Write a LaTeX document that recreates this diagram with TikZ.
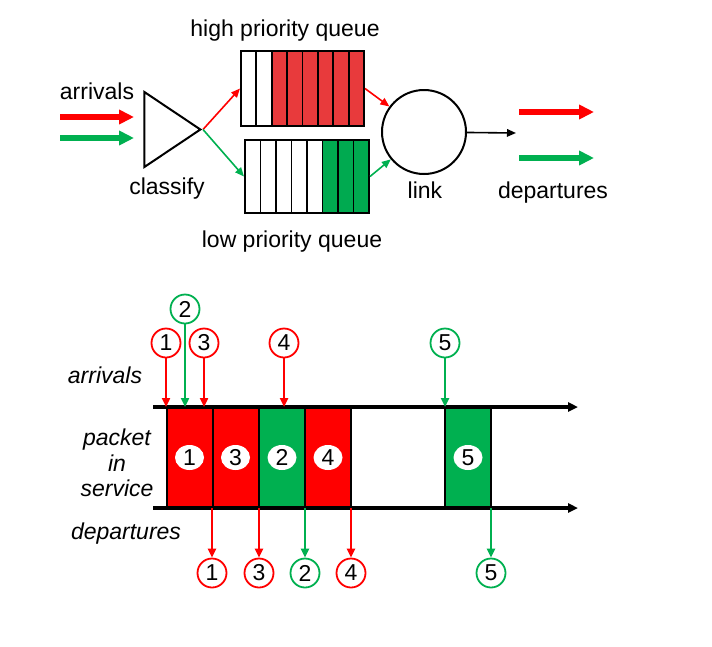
\documentclass[tikz,border=0pt]{standalone}
\usepackage{fontspec}
\setmainfont{Liberation Sans}
\usepackage{xcolor}
\usetikzlibrary{arrows.meta,positioning,shapes.geometric}
\definecolor{pktred}{RGB}{255,0,0}
\definecolor{pktgreen}{RGB}{0,176,80}
\definecolor{qred}{RGB}{232,58,60}
\definecolor{qgreen}{RGB}{0,170,80}
\begin{document}
\begin{tikzpicture}[x=1pt,y=-1pt,font=\fontsize{23}{25.5}\selectfont,
	flow/.style={line width=5.5pt,-{Triangle[length=15pt,width=14pt]}},
	feed/.style={line width=1.6pt,-{Triangle[length=9pt,width=7.5pt]}},
	tick/.style={line width=2.4pt,-{Triangle[length=9pt,width=8pt]}},
	timeline/.style={line width=3.2pt,-{Triangle[length=10pt,width=9pt]}},
	queue/.style={draw,line width=2pt,inner sep=0pt,minimum height=75pt},
	slot/.style={draw,line width=2pt,inner sep=0pt,minimum width=46pt,minimum height=101pt},
	slotlbl/.style={ellipse,fill=white,inner sep=0pt,minimum width=29pt,minimum height=25pt},
	pkt/.style={circle,draw,fill=white,line width=1.8pt,inner sep=0pt,minimum size=29pt},
	txt/.style={anchor=base},
	itxt/.style={anchor=base,font=\fontsize{23}{25.5}\selectfont\itshape}]
	\useasboundingbox (0,0) rectangle (712,646);

	% scheduler
	\node [txt] at (97,99) (arrtxt) {arrivals};
	\coordinate (inr0) at (60,117);
	\coordinate (inr1) at (134,117);
	\coordinate (ing0) at (60,138);
	\coordinate (ing1) at (134,138);
	\node [isosceles triangle,draw,line width=2pt,inner sep=0pt,isosceles triangle stretches,
		minimum width=75pt,minimum height=56pt,anchor=apex] at (203,129.5) (cls) {};
	\node [txt] at (167,194) (clstxt) {classify};

	\foreach \c [count=\i from 0] in {white,white,qred,qred,qred,qred,qred,qred}
		\filldraw[fill=\c,line width=1.8pt] (241+\i*15.375,51) rectangle ++(15.375,75);
	\foreach \c [count=\i from 0] in {white,white,white,white,white,qgreen,qgreen,qgreen}
		\filldraw[fill=\c,line width=1.8pt] (245+\i*15.5,140) rectangle ++(15.5,73);
	\node [queue,minimum width=123pt] at (302.5,88.5) (hq) {};
	\node [queue,minimum width=124pt,minimum height=73pt] at (307,176.5) (lq) {};
	\node [txt] at (285,36) (hqtxt) {high priority queue};
	\node [txt] at (292,247) (lqtxt) {low priority queue};

	\node [circle,draw,line width=2pt,inner sep=0pt,minimum size=84pt] at (424,132) (link) {};
	\node [txt] at (425,198) (linktxt) {link};
	\coordinate (lnkout) at (516,133);
	\coordinate (outr0) at (519,112);
	\coordinate (outr1) at (594,112);
	\coordinate (outg0) at (519,158);
	\coordinate (outg1) at (594,158);
	\node [txt] at (553,198) (deptxt) {departures};

	\draw[flow,pktred] (inr0) -- (inr1);
	\draw[flow,pktgreen] (ing0) -- (ing1);
	\draw[flow,pktred] (outr0) -- (outr1);
	\draw[flow,pktgreen] (outg0) -- (outg1);
	\path[feed]
	(cls.apex) edge[pktred] (hq.west)
	(cls.apex) edge[pktgreen] (lq.west)
	(hq.east) edge[pktred] (link)
	(lq.east) edge[pktgreen] (link)
	(link) edge[black] (lnkout);

	% time line
	\node [slot,fill=pktred] at (189.5,457.5) (s1) {};
	\node [slot,fill=pktred] at (235.5,457.5) (s3) {};
	\node [slot,fill=pktgreen] at (282,457.5) (s2) {};
	\node [slot,fill=pktred] at (328,457.5) (s4) {};
	\node [slot,fill=pktgreen] at (468,457.5) (s5) {};
	\node [slotlbl] at (s1) (l1) {1};
	\node [slotlbl] at (s3) (l3) {3};
	\node [slotlbl] at (s2) (l2) {2};
	\node [slotlbl] at (s4) (l4) {4};
	\node [slotlbl] at (s5) (l5) {5};

	\coordinate (top0) at (153,407);
	\coordinate (top1) at (578,407);
	\coordinate (bot0) at (153,508);
	\coordinate (bot1) at (578,508);
	\draw[timeline] (top0) -- (top1);
	\draw[timeline] (bot0) -- (bot1);

	\node [pkt,draw=pktred] at (166,343) (a1) {1};
	\node [pkt,draw=pktgreen] at (185,309) (a2) {2};
	\node [pkt,draw=pktred] at (204,343) (a3) {3};
	\node [pkt,draw=pktred] at (284,343) (a4) {4};
	\node [pkt,draw=pktgreen] at (445,343) (a5) {5};
	\node [pkt,draw=pktred] at (212,573) (d1) {1};
	\node [pkt,draw=pktred] at (259,573) (d3) {3};
	\node [pkt,draw=pktgreen] at (305,573) (d2) {2};
	\node [pkt,draw=pktred] at (351,573) (d4) {4};
	\node [pkt,draw=pktgreen] at (491,573) (d5) {5};

	\path[tick]
	(a1) edge[pktred] (a1 |- top0)
	(a2) edge[pktgreen] (a2 |- top0)
	(a3) edge[pktred] (a3 |- top0)
	(a4) edge[pktred] (a4 |- top0)
	(a5) edge[pktgreen] (a5 |- top0)
	(d1 |- bot0) edge[pktred] (d1)
	(d3 |- bot0) edge[pktred] (d3)
	(d2 |- bot0) edge[pktgreen] (d2)
	(d4 |- bot0) edge[pktred] (d4)
	(d5 |- bot0) edge[pktgreen] (d5);

	\node [itxt] at (105,383) (arrlbl) {arrivals};
	\node [align=center,font=\fontsize{23}{25.5}\selectfont\itshape] at (117,463) (svclbl) {packet\\in\\service};
	\node [itxt] at (126,539) (deplbl) {departures};
\end{tikzpicture}
\end{document}
